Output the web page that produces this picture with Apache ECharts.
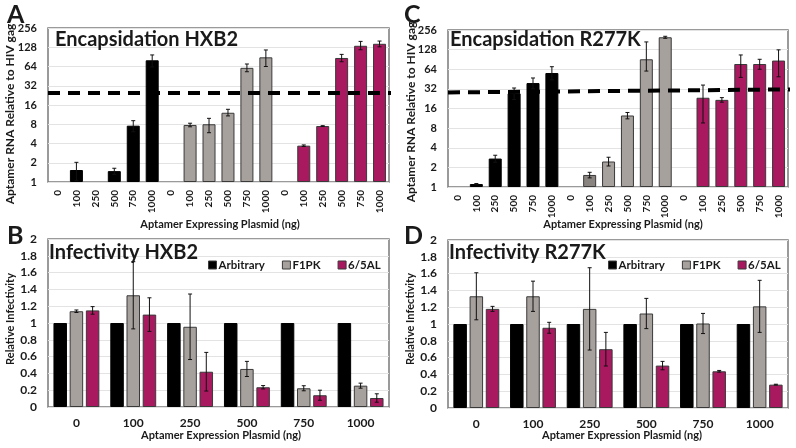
<!DOCTYPE html>
<html><head><meta charset="utf-8">
<script src="https://cdn.jsdelivr.net/npm/echarts@6/dist/echarts.min.js"></script>
<style>html,body{margin:0;padding:0;background:#fff}#c{width:796px;height:448px}</style>
</head><body><div id="c"></div>
<script>
// ---------- data ----------
const doseLabels = ['0', '100', '250', '500', '750', '1000'];
const groupNames = ['Arbitrary', 'F1PK', '6/5AL'];

// Panel A: Encapsidation HXB2 (value, lower / upper error ends)
const encHXB2Arb = [null, 1.54, null, 1.48, 7.6, 80];
const encHXB2ArbLo = [null, 1.05, null, 1.32, 6.1, 63];
const encHXB2ArbHi = [null, 2.03, null, 1.64, 9.1, 97];
const encHXB2F1 = [null, 7.8, 8.0, 12.1, 61, 89];
const encHXB2F1Lo = [null, 7.3, 5.9, 10.8, 53, 64];
const encHXB2F1Hi = [null, 8.3, 9.9, 13.7, 70, 116];
const encHXB2Al = [null, 3.7, 7.5, 87, 135, 145];
const encHXB2AlLo = [null, 3.6, 7.4, 76, 117, 130];
const encHXB2AlHi = [null, 3.8, 7.6, 99, 158, 160];
const thresholdHXB2 = [24.6, 24.6];

// Panel C: Encapsidation R277K
const encR277KArb = [null, 1.11, 2.73, 27.3, 39.3, 56];
const encR277KArbLo = [null, 1.09, 2.4, 22, 32, 44];
const encR277KArbHi = [null, 1.13, 3.07, 33, 47, 70];
const encR277KF1 = [null, 1.53, 2.46, 12.5, 91, 198];
const encR277KF1Lo = [null, 1.38, 2.1, 11.1, 60, 191];
const encR277KF1Hi = [null, 1.68, 2.86, 13.9, 168, 205];
const encR277KAl = [null, 23.4, 21.7, 77, 77, 87];
const encR277KAlLo = [null, 9.6, 20, 48, 64, 49];
const encR277KAlHi = [null, 36.6, 23.5, 106, 91, 127];
const thresholdR277K = [28.2, 31.4];

// Panel B: Infectivity HXB2 (value, +/- error)
const infHXB2Arb = [1, 1, 1, 1, 1, 1];
const infHXB2F1 = [1.14, 1.33, 0.955, 0.453, 0.223, 0.254];
const infHXB2F1Err = [0.015, 0.4, 0.39, 0.09, 0.03, 0.03];
const infHXB2Al = [1.15, 1.10, 0.42, 0.235, 0.14, 0.107];
const infHXB2AlErr = [0.045, 0.2, 0.23, 0.02, 0.06, 0.05];

// Panel D: Infectivity R277K
const infR277KArb = [1, 1, 1, 1, 1, 1];
const infR277KF1 = [1.33, 1.33, 1.18, 1.125, 1.006, 1.21];
const infR277KF1Err = [0.28, 0.18, 0.49, 0.18, 0.12, 0.31];
const infR277KAl = [1.18, 0.955, 0.70, 0.505, 0.437, 0.278];
const infR277KAlErr = [0.03, 0.065, 0.2, 0.05, 0.01, 0.005];

// ---------- styles ----------
const FONT = 'Lato';
const TXT = '#1a1a1a';
const COLORS = ['#000000', '#a7a19e', '#a8195f'];
const DARKGRAY = '#8a8481';
const BORDER = '#3a3a3a';
const BW = 13.5;

const chart = echarts.init(document.getElementById('c'), null, {renderer: 'canvas'});

// categories for encapsidation panels: 3 groups x 6 doses (unique keys)
const encCats = [];
groupNames.forEach(g => doseLabels.forEach(d => encCats.push(g + '|' + d)));

function spread(arr, gi) {
  const out = new Array(18).fill(null);
  arr.forEach((v, i) => out[gi * 6 + i] = v);
  return out;
}

const grids = [
  {left: 48, top: 28, width: 341, height: 154},   // A
  {left: 448, top: 30, width: 340, height: 157},  // C
  {left: 48, top: 239, width: 341, height: 168},  // B
  {left: 448, top: 240, width: 340, height: 168}  // D
].map(g => Object.assign(g, {show: true, borderColor: '#7a7a7a', borderWidth: 1.5, backgroundColor: 'transparent', containLabel: false}));

const encXAxis = gi => ({
  type: 'category', gridIndex: gi, data: encCats,
  axisTick: {show: false}, axisLine: {show: false},
  axisLabel: {rotate: 90, interval: 0, margin: 8, fontFamily: FONT, fontWeight: 'bold', fontSize: 10, color: TXT,
    formatter: v => v.split('|')[1]}
});
const encYAxis = gi => ({
  type: 'log', logBase: 2, gridIndex: gi, min: 1, max: 256, interval: 1,
  axisLine: {show: false}, axisTick: {show: false},
  splitLine: {lineStyle: {color: '#e3e3e3', width: 1}},
  axisLabel: {margin: 11, fontFamily: FONT, fontWeight: 'bold', fontSize: 11, color: TXT}
});
const infXAxis = gi => ({
  type: 'category', gridIndex: gi, data: doseLabels,
  axisTick: {show: false}, axisLine: {show: false},
  axisLabel: {margin: 10, fontFamily: FONT, fontWeight: 'bold', fontSize: 12, color: TXT}
});
const infYAxis = gi => ({
  type: 'value', gridIndex: gi, min: 0, max: 2, interval: 0.2,
  axisLine: {show: false}, axisTick: {show: false},
  splitLine: {lineStyle: {color: '#e3e3e3', width: 1}},
  axisLabel: {margin: 11, fontFamily: FONT, fontWeight: 'bold', fontSize: 12, color: TXT,
    formatter: v => String(Math.round(v * 10) / 10)}
});

const series = [];

function encBars(ai, vals, gi, key, darkIdx) {
  series.push({
    type: 'bar', name: key + groupNames[gi], xAxisIndex: ai, yAxisIndex: ai,
    data: spread(vals, gi).map((v, i) => (v == null ? null : (darkIdx != null && i === gi * 6 + darkIdx ?
      {value: v, itemStyle: {color: DARKGRAY}} : v))),
    barWidth: 13, barGap: '-100%',
    itemStyle: {color: COLORS[gi], borderColor: gi === 0 ? '#000' : BORDER, borderWidth: 1},
    z: 2, silent: true
  });
}
function errBarGroup(x, yLo, yHi) {
  const cw = 2;
  const st = {stroke: '#111', lineWidth: 1};
  return {type: 'group', children: [
    {type: 'line', shape: {x1: x, y1: yLo, x2: x, y2: yHi}, style: st},
    {type: 'line', shape: {x1: x - cw, y1: yLo, x2: x + cw, y2: yLo}, style: st},
    {type: 'line', shape: {x1: x - cw, y1: yHi, x2: x + cw, y2: yHi}, style: st}
  ]};
}
function encErr(ai, lo, hi, gi) {
  const d = [];
  lo.forEach((l, i) => { if (l != null) d.push([gi * 6 + i, l, hi[i]]); });
  series.push({
    type: 'custom', xAxisIndex: ai, yAxisIndex: ai, data: d, z: 5, silent: true,
    renderItem: (p, api) => {
      const a = api.coord([api.value(0), api.value(1)]);
      const b = api.coord([api.value(0), api.value(2)]);
      return errBarGroup(a[0], a[1], b[1]);
    }
  });
}
function threshold(ai, thr) {
  series.push({
    type: 'custom', xAxisIndex: ai, yAxisIndex: ai, data: [[0, thr[0], thr[1]]], z: 10, silent: true,
    renderItem: (p, api) => {
      const cs = p.coordSys;
      const y1 = api.coord([0, api.value(1)])[1];
      const y2 = api.coord([0, api.value(2)])[1];
      return {type: 'line', shape: {x1: cs.x, y1: y1, x2: cs.x + cs.width + 2, y2: y2},
        style: {stroke: '#000', lineWidth: 4, lineDash: [12, 8]}};
    }
  });
}

// Panel A
encBars(0, encHXB2Arb, 0, 'A ');
encBars(0, encHXB2F1, 1, 'A ');
encBars(0, encHXB2Al, 2, 'A ');
encErr(0, encHXB2ArbLo, encHXB2ArbHi, 0);
encErr(0, encHXB2F1Lo, encHXB2F1Hi, 1);
encErr(0, encHXB2AlLo, encHXB2AlHi, 2);
threshold(0, thresholdHXB2);
// Panel C
encBars(1, encR277KArb, 0, 'C ');
encBars(1, encR277KF1, 1, 'C ', 1);
encBars(1, encR277KAl, 2, 'C ');
encErr(1, encR277KArbLo, encR277KArbHi, 0);
encErr(1, encR277KF1Lo, encR277KF1Hi, 1);
encErr(1, encR277KAlLo, encR277KAlHi, 2);
threshold(1, thresholdR277K);

function infBars(ai, vals) {
  vals.forEach((arr, gi) => series.push({
    type: 'bar', name: groupNames[gi], xAxisIndex: ai, yAxisIndex: ai, data: arr,
    barWidth: BW, barGap: '20%',
    itemStyle: {color: COLORS[gi], borderColor: gi === 0 ? '#000' : BORDER, borderWidth: 1},
    z: 2, silent: true
  }));
}
function infErr(ai, vals, errs, gi) {
  const d = vals.map((v, i) => [i, v - errs[i], v + errs[i]]);
  series.push({
    type: 'custom', xAxisIndex: ai, yAxisIndex: ai, data: d, z: 5, silent: true,
    renderItem: (p, api) => {
      const off = (gi - 1) * BW * 1.2;
      const a = api.coord([api.value(0), api.value(1)]);
      const b = api.coord([api.value(0), api.value(2)]);
      return errBarGroup(a[0] + off, a[1], b[1]);
    }
  });
}
// Panel B
infBars(2, [infHXB2Arb, infHXB2F1, infHXB2Al]);
infErr(2, infHXB2F1, infHXB2F1Err, 1);
infErr(2, infHXB2Al, infHXB2AlErr, 2);
// Panel D
infBars(3, [infR277KArb, infR277KF1, infR277KAl]);
infErr(3, infR277KF1, infR277KF1Err, 1);
infErr(3, infR277KAl, infR277KAlErr, 2);

const legendBase = {
  data: groupNames, icon: 'rect', itemWidth: 8, itemHeight: 8, itemGap: 17, selectedMode: false,
  orient: 'horizontal',
  textStyle: {fontFamily: FONT, fontWeight: 'bold', fontSize: 11.5, color: TXT, padding: [0, 0, 0, -3]},
  itemStyle: {borderColor: BORDER, borderWidth: 1}, padding: 0
};

function txt(text, x, y, size) {
  return {type: 'text', x: x, y: y, silent: true, z: 20,
    style: {text: text, font: 'bold ' + size + 'px ' + FONT, fill: TXT, textAlign: 'left', textVerticalAlign: 'middle'}};
}
function vtxt(text, x, y, size) {
  return {type: 'text', x: x, y: y, rotation: Math.PI / 2, silent: true,
    style: {text: text, font: 'bold ' + size + 'px ' + FONT, fill: TXT, textAlign: 'center', textVerticalAlign: 'middle'}};
}
function ctxt(text, x, y, size) {
  return {type: 'text', x: x, y: y, silent: true,
    style: {text: text, font: 'bold ' + size + 'px ' + FONT, fill: TXT, textAlign: 'center', textVerticalAlign: 'middle'}};
}

chart.setOption({
  animation: false,
  backgroundColor: '#fff',
  grid: grids,
  xAxis: [encXAxis(0), encXAxis(1), infXAxis(2), infXAxis(3)],
  yAxis: [encYAxis(0), encYAxis(1), infYAxis(2), infYAxis(3)],
  legend: [
    Object.assign({}, legendBase, {left: 208, top: 259}),
    Object.assign({}, legendBase, {left: 608, top: 259})
  ],
  series: series,
  graphic: [
    txt('A', 7, 15, 25),
    txt('C', 404, 15, 25),
    txt('B', 7, 236, 25),
    txt('D', 404, 236, 25),
    txt('Encapsidation HXB2', 55, 40, 20),
    txt('Encapsidation R277K', 450, 40, 20),
    txt('Infectivity HXB2', 49, 253, 20),
    txt('Infectivity R277K', 449, 253, 20),
    vtxt('Aptamer RNA Relative to HIV gag', 10, 114, 12),
    vtxt('Aptamer RNA Relative to HIV gag', 411, 112, 12),
    vtxt('Relative Infectivity', 10, 319, 11),
    vtxt('Relative Infectivity', 410, 319, 11),
    ctxt('Aptamer Expressing Plasmid (ng)', 220, 224, 11),
    ctxt('Aptamer Expressing Plasmid (ng)', 623, 224, 11),
    ctxt('Aptamer Expression Plasmid (ng)', 221, 435, 11),
    ctxt('Aptamer Expression Plasmid (ng)', 622, 435, 11)
  ]
});
</script></body></html>
